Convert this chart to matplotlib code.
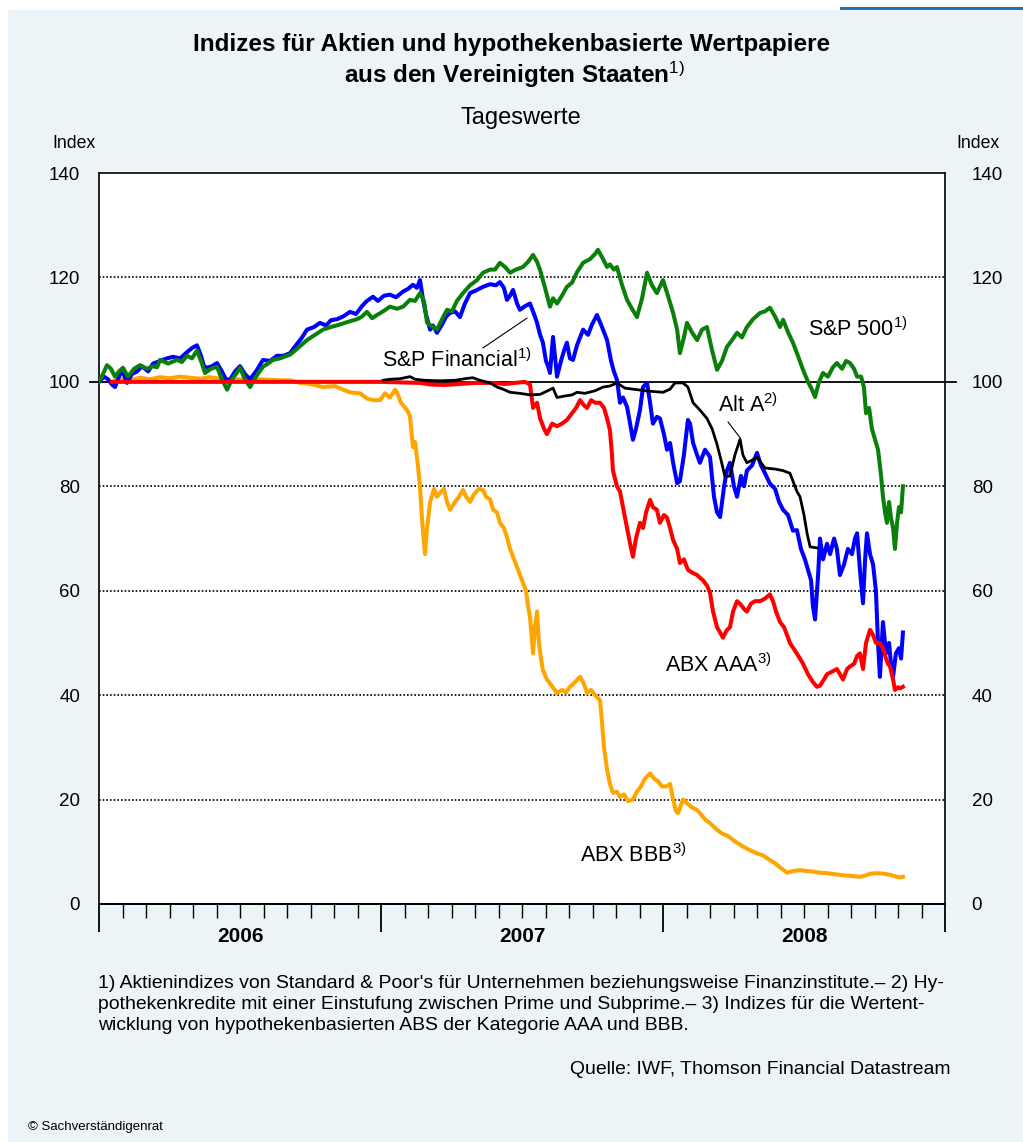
import matplotlib
matplotlib.use("Agg")
import matplotlib.pyplot as plt
from matplotlib.patches import Rectangle
import matplotlib.transforms as mtransforms

plt.rcParams['font.family'] = ['Liberation Sans', 'DejaVu Sans']
plt.rcParams['mathtext.fontset'] = 'custom'
plt.rcParams['mathtext.rm'] = 'Liberation Sans'
plt.rcParams['mathtext.it'] = 'Liberation Sans:italic'
plt.rcParams['mathtext.bf'] = 'Liberation Sans:bold'

# ---------------- data (x = months since start of 2006) ----------------
years = ["2006", "2007", "2008"]
yticks = [0, 20, 40, 60, 80, 100, 120, 140]

sp500_t = [0.00, 0.17, 0.34, 0.51, 0.68, 0.85, 1.02, 1.23, 1.49, 1.74, 2.04, 2.30, 2.47, 2.60, 2.94,
           3.32, 3.53, 3.74, 3.96, 4.17, 4.34, 4.51, 4.77, 5.02, 5.23, 5.45, 5.66, 5.83, 6.00, 6.21,
           6.43, 6.68, 6.98, 7.19, 7.40, 7.70, 8.13, 8.47, 8.85, 9.19, 9.53, 9.87, 10.26, 10.60, 10.98,
           11.19, 11.40, 11.62, 11.83, 12.09, 12.38, 12.68, 12.94, 13.23, 13.45, 13.66, 13.83, 13.96,
           14.21, 14.38, 14.60, 14.81, 15.02, 15.23, 15.49, 15.79, 16.09, 16.34, 16.64, 16.85, 17.06,
           17.28, 17.49, 17.74, 18.04, 18.26, 18.47, 18.64, 18.77, 18.98, 19.19, 19.32, 19.49, 19.70,
           19.91, 20.13, 20.34, 20.60, 20.89, 21.11, 21.23, 21.45, 21.62, 21.74, 21.91, 22.04, 22.26,
           22.47, 22.68, 22.89, 23.11, 23.32, 23.53, 23.74, 24.00, 24.21, 24.43, 24.60, 24.72, 24.89,
           25.02, 25.23, 25.45, 25.66, 25.87, 26.09, 26.30, 26.51, 26.72, 26.94, 27.15, 27.36, 27.57,
           27.83, 28.13, 28.34, 28.55, 28.77, 28.98, 29.11, 29.32, 29.53, 29.74, 29.96, 30.17, 30.34,
           30.47, 30.64, 30.81, 31.02, 31.23, 31.40, 31.62, 31.79, 31.96, 32.13, 32.26, 32.43, 32.55,
           32.64, 32.77, 32.89, 33.02, 33.15, 33.28, 33.36, 33.45, 33.53, 33.62, 33.70, 33.79, 33.87,
           33.96, 34.04, 34.13, 34.21]
sp500_v = [100, 101.5, 103.2, 102.5, 101, 102, 102.7, 101, 102.5, 103.2, 102.5, 103, 102.8, 104.2, 103.5,
           104.2, 103.8, 105, 104.5, 106, 104, 101.7, 102.5, 102.9, 100.5, 98.5, 100.5, 101.5, 102.7, 100.5,
           99, 101, 102.9, 103.5, 104.2, 104.5, 105.2, 106.5, 108, 109, 110, 110.5, 111, 111.5, 112,
           112.5, 113.4, 112.2, 112.8, 113.5, 114.4, 114, 114.4, 115.7, 115.5, 117, 115.5, 111.3,
           110.5, 110, 112, 113.8, 113.5, 115.5, 117, 118.5, 119.5, 120.9, 121.5, 121.5, 122.8,
           122, 120.9, 121.5, 122, 123, 124.3, 123, 121.4, 118, 114.4, 116, 115, 116.5,
           118.2, 119, 121, 122.8, 123.5, 124.5, 125.3, 123.5, 122, 122.5, 121.5, 122, 118.5,
           115.7, 114, 112.4, 116, 120.9, 118.5, 117, 119.5, 116.5, 113.2, 110, 105.5, 108.5,
           111.3, 109.5, 108, 110, 110.5, 106, 102.3, 104, 106.7, 108, 109.4, 108.5, 110.5,
           112, 113.2, 113.5, 114.2, 112.5, 110.5, 111.9, 109.5, 107.5, 105, 102.3, 100, 98.5,
           97.1, 100, 101.7, 101, 102.8, 103.6, 102.5, 104, 103.6, 102.5, 101, 101, 99,
           94, 95, 91, 89, 87, 82, 78, 75, 73, 77, 74, 72, 68,
           73, 76, 75, 80]

fin_t = [0.00, 0.21, 0.38, 0.55, 0.68, 0.85, 0.98, 1.19, 1.40, 1.62, 1.83, 2.09, 2.30, 2.60, 2.89,
         3.15, 3.45, 3.70, 3.96, 4.17, 4.34, 4.47, 4.60, 4.81, 5.02, 5.23, 5.40, 5.57, 5.79, 6.00,
         6.21, 6.43, 6.68, 6.98, 7.28, 7.57, 7.87, 8.13, 8.38, 8.64, 8.85, 9.15, 9.40, 9.66, 9.87,
         10.13, 10.38, 10.68, 10.94, 11.19, 11.40, 11.66, 11.87, 12.13, 12.38, 12.64, 12.94, 13.15,
         13.36, 13.53, 13.66, 13.79, 13.91, 14.09, 14.21, 14.38, 14.60, 14.77, 14.94, 15.15, 15.36,
         15.57, 15.79, 16.04, 16.34, 16.64, 16.89, 17.06, 17.23, 17.36, 17.49, 17.62, 17.79, 17.91,
         18.13, 18.34, 18.51, 18.64, 18.77, 18.89, 19.02, 19.11, 19.19, 19.32, 19.40, 19.49, 19.66,
         19.79, 19.91, 20.04, 20.17, 20.34, 20.47, 20.60, 20.81, 20.98, 21.19, 21.36, 21.49, 21.62,
         21.79, 21.91, 22.04, 22.17, 22.30, 22.47, 22.60, 22.72, 22.85, 23.02, 23.15, 23.32, 23.45,
         23.57, 23.74, 23.87, 24.04, 24.17, 24.30, 24.43, 24.60, 24.72, 24.89, 25.06, 25.15, 25.28,
         25.45, 25.57, 25.79, 26.00, 26.17, 26.30, 26.43, 26.60, 26.72, 26.85, 27.02, 27.15, 27.32,
         27.45, 27.57, 27.79, 28.00, 28.17, 28.34, 28.55, 28.77, 28.94, 29.11, 29.32, 29.53, 29.70,
         29.87, 30.04, 30.17, 30.30, 30.38, 30.47, 30.60, 30.68, 30.81, 30.98, 31.11, 31.28, 31.40,
         31.53, 31.70, 31.87, 32.04, 32.17, 32.26, 32.38, 32.51, 32.60, 32.68, 32.81, 32.94, 33.06,
         33.15, 33.23, 33.36, 33.49, 33.62, 33.70, 33.79, 33.91, 34.04, 34.13, 34.21]
fin_v = [100, 101, 100.5, 99.5, 99, 101, 102.3, 99.8, 101.5, 102, 103, 102, 103.5, 104, 104.5,
         104.8, 104.5, 105.5, 106.5, 107, 105, 103, 102.7, 103, 103.6, 102, 100.5, 100.4, 102, 103,
         101.5, 100.5, 102, 104.2, 104, 105, 105, 105.5, 107, 108.5, 110, 110.5, 111.3, 110.8, 111.8,
         112, 112.5, 113.4, 113, 114.5, 115.5, 116.3, 115.5, 116.5, 116.7, 116.2, 117.3, 117.8,
         118.6, 118, 119.5, 115.7, 113, 110, 110.8, 109.4, 111, 112.5, 113.2, 113.5, 112.4,
         115, 117, 117.5, 118.2, 118.7, 118.5, 119.1, 118, 115.7, 116.5, 117.6, 115, 113.8,
         114.5, 115, 113, 111.3, 109, 107.5, 104, 103, 101.7, 108.6, 105, 101, 104,
         106, 107.5, 104.5, 104.2, 107, 108.5, 110, 109, 111, 112.8, 111, 109.5, 108,
         104, 102, 100.4, 96, 97, 95.2, 92, 88.9, 91, 94.6, 99, 99.8, 96,
         92, 93.3, 93, 90, 87, 88.3, 84.5, 80.6, 81, 86, 92.7, 92, 88.3,
         86, 84.5, 87, 85.6, 78, 75, 74.1, 80, 83, 84.5, 80, 78, 82,
         80, 83, 84, 86.4, 84, 82.5, 80.5, 79.5, 77, 75.5, 74.5, 71.5, 71.6,
         68, 66, 64, 62, 57, 54.5, 63, 70, 66, 69, 67, 70, 68,
         63, 65, 68, 67, 70, 71, 64, 57.6, 66, 71, 67, 65, 60,
         50, 43.5, 54, 48, 50, 46, 43.5, 48, 49, 47, 52]

aaa_t = [0.55, 4.00, 8.00, 12.00, 13.66, 14.09, 14.72, 15.36, 16.00, 16.64, 17.28, 17.70, 18.13, 18.34,
         18.47, 18.64, 18.77, 18.94, 19.06, 19.28, 19.49, 19.70, 19.91, 20.13, 20.30, 20.47, 20.64,
         20.77, 20.94, 21.11, 21.32, 21.49, 21.62, 21.74, 21.83, 21.87, 22.04, 22.17, 22.34, 22.47,
         22.60, 22.72, 22.85, 23.02, 23.15, 23.28, 23.45, 23.57, 23.74, 23.87, 24.04, 24.17, 24.30,
         24.43, 24.60, 24.72, 24.89, 25.06, 25.23, 25.45, 25.57, 25.70, 25.87, 26.00, 26.13, 26.30,
         26.43, 26.55, 26.72, 26.85, 26.98, 27.15, 27.28, 27.45, 27.57, 27.74, 27.91, 28.13, 28.34,
         28.55, 28.68, 28.81, 28.98, 29.15, 29.28, 29.40, 29.62, 29.83, 29.96, 30.17, 30.38, 30.55,
         30.68, 30.85, 30.98, 31.19, 31.40, 31.53, 31.66, 31.83, 31.96, 32.13, 32.26, 32.38, 32.51,
         32.64, 32.81, 32.94, 33.06, 33.23, 33.36, 33.49, 33.57, 33.66, 33.79, 33.87, 34.00, 34.09,
         34.21]
aaa_v = [100, 100, 100, 100, 99.8, 99.5, 99.4, 99.6, 99.8, 99.8, 99.6, 99.8, 100, 99.5,
         95, 96, 93, 91, 90, 92, 91.5, 92, 92.7, 94, 95, 96.5, 95.5,
         95, 96.5, 96, 96, 95, 93, 90.8, 86, 83, 80, 79, 75, 72,
         69, 66.5, 70, 73, 72, 75, 77.4, 76, 75.5, 73, 74.5, 74, 72,
         69.7, 68, 65.3, 66, 64, 63.5, 63, 62.5, 62, 61, 59.6, 56, 53,
         52, 51, 52.5, 53, 56, 58, 57.5, 56.5, 56, 57.5, 58, 58, 58.5,
         59.3, 58, 56, 54, 53, 51.5, 50, 48.5, 47, 46, 44, 42.5, 41.6,
         41.8, 43, 44, 44.5, 45, 44, 43, 45, 45.5, 46, 47.5, 48, 45,
         50, 52.5, 51.5, 50, 50, 49, 47, 46, 45.5, 43, 41, 41.5, 41.3,
         41.6]

bbb_t = [0.55, 0.89, 1.32, 1.74, 2.17, 2.60, 3.02, 3.45, 3.87, 4.30, 4.72, 5.15, 5.57, 6.00, 6.43,
         6.85, 7.28, 7.70, 8.13, 8.55, 8.98, 9.53, 10.04, 10.34, 10.68, 11.11, 11.40, 11.66, 11.96,
         12.17, 12.38, 12.60, 12.68, 12.85, 13.11, 13.23, 13.36, 13.45, 13.57, 13.66, 13.74, 13.87,
         13.96, 14.09, 14.26, 14.38, 14.51, 14.68, 14.81, 14.94, 15.15, 15.32, 15.49, 15.62, 15.79,
         15.96, 16.17, 16.34, 16.47, 16.64, 16.77, 16.94, 17.06, 17.23, 17.36, 17.49, 17.66, 17.79,
         17.91, 18.04, 18.17, 18.26, 18.34, 18.43, 18.47, 18.55, 18.64, 18.72, 18.81, 18.89, 19.06,
         19.23, 19.49, 19.70, 19.87, 20.04, 20.26, 20.47, 20.60, 20.77, 20.94, 21.11, 21.32, 21.40,
         21.49, 21.62, 21.74, 21.87, 22.04, 22.17, 22.34, 22.51, 22.72, 22.89, 23.06, 23.23, 23.45,
         23.62, 23.79, 23.96, 24.13, 24.30, 24.43, 24.55, 24.64, 24.77, 24.85, 25.02, 25.23, 25.45,
         25.57, 25.79, 26.00, 26.30, 26.51, 26.77, 27.06, 27.40, 27.70, 28.00, 28.26, 28.55, 28.77,
         28.98, 29.28, 29.53, 29.83, 30.13, 30.38, 30.68, 30.98, 31.32, 31.66, 31.96, 32.38, 32.64,
         32.81, 33.11, 33.40, 33.66, 33.87, 34.09, 34.21]
bbb_v = [100, 100.5, 100.3, 100.8, 100.5, 100.9, 100.7, 101, 100.8, 100.6, 100.9, 100.6, 100.4, 100.5, 100.3,
         100.5, 100.4, 100.3, 100.3, 99.8, 99.6, 99, 99.2, 98.6, 98, 97.8, 96.8, 96.5, 96.5,
         97.8, 97, 98.5, 98, 96, 94.6, 93.5, 87.5, 88.5, 84, 80, 74, 67,
         72, 77, 79.5, 78, 78.7, 79.5, 77, 75.5, 77, 78, 79.3, 78, 77,
         78.5, 79.5, 79.3, 78, 77.5, 75.5, 75, 73, 72, 70.3, 68, 66, 64.5,
         63, 61.5, 60, 57, 55, 50, 48, 53, 56, 50, 47, 44.8, 43,
         42, 40.4, 41, 40.5, 41.6, 42.5, 43.5, 42.5, 40.4, 41, 40, 39, 35,
         30, 25.7, 23, 21.3, 21.5, 20.5, 21, 19.7, 20, 21.5, 22.5, 24, 25,
         24, 23.5, 22.5, 22.5, 23, 20, 17.8, 17.4, 19, 20, 19.3, 18.5, 18,
         17.4, 16.2, 15.5, 14.2, 13.5, 13, 12, 11, 10.3, 9.7, 9.3, 8.4, 7.8,
         7, 6, 6.3, 6.5, 6.3, 6.2, 6, 5.9, 5.7, 5.5, 5.4, 5.2, 5.5,
         5.8, 5.9, 5.8, 5.6, 5.3, 5.1, 5.2]

alta_t = [12.09, 12.38, 12.81, 13.02, 13.23, 13.45, 13.87, 14.51, 15.15, 15.57, 15.91, 16.21, 16.64,
          16.94, 17.19, 17.49, 17.91, 18.34, 18.77, 19.19, 19.32, 19.49, 19.83, 20.13, 20.34, 20.68,
          21.11, 21.45, 21.74, 22.04, 22.38, 22.89, 23.45, 24.00, 24.30, 24.51, 24.85, 25.06, 25.28,
          25.57, 25.87, 26.09, 26.30, 26.47, 26.64, 26.85, 27.06, 27.28, 27.40, 27.57, 27.79, 28.00,
          28.17, 28.34, 28.77, 29.11, 29.40, 29.53, 29.70, 29.83, 30.00, 30.13, 30.26, 30.55]
alta_v = [100.3, 100.5, 100.6, 100.8, 101, 100.5, 100.3, 100.2, 100.3, 100.6, 100.8, 100.3, 99.8,
          99, 98.6, 98, 97.8, 97.5, 97.6, 98.5, 98.8, 97, 97.3, 97.5, 98, 97.8,
          98.3, 99, 99.2, 99.8, 98.8, 98.5, 98.2, 98, 98.6, 99.8, 99.8, 99, 96,
          94.6, 93, 91, 88, 85, 81.8, 82, 86, 89, 86, 84.5, 85, 85.6,
          84.5, 83.5, 83.3, 83, 82.5, 81, 79, 78, 74.5, 71, 68.4, 68.2]

# ---------------- figure ----------------
W, H = 1023, 1142
fig = plt.figure(figsize=(W / 100, H / 100), dpi=100)
fig.patch.set_facecolor("white")


def fx(x):
    return x / W


def fy(y):
    return 1 - y / H


bg = "#ECF4F8"
fig.add_artist(Rectangle((fx(8), 0), 1 - fx(8), fy(10), transform=fig.transFigure,
                         facecolor=bg, edgecolor="none", zorder=-10))
fig.add_artist(Rectangle((fx(840), fy(10)), 1 - fx(840), 3 / H, transform=fig.transFigure,
                         facecolor="#1F73B7", edgecolor="none", zorder=-9))

ax = fig.add_axes([fx(99), fy(904), fx(945) - fx(99), fy(173) - fy(904)])
ax.set_facecolor("white")
ax.set_xlim(0, 36)
ax.set_ylim(0, 140)

# grid
for v in yticks:
    if v in (0, 140):
        continue
    if v == 100:
        ax.axhline(v, color="black", lw=1.3, zorder=1)
    else:
        ax.axhline(v, color="black", lw=1.2, ls=(0, (1, 1.2)), zorder=1)
# ticks at 100 outside both sides
ax.plot([-0.011, 0.0], [100, 100], transform=ax.get_yaxis_transform(), color="black",
        lw=1.3, clip_on=False)
ax.plot([1.0, 1.013], [100, 100], transform=ax.get_yaxis_transform(), color="black",
        lw=1.3, clip_on=False)

# series
lw = 2.9
ax.plot(bbb_t, bbb_v, color="#FFA500", lw=lw, zorder=3, solid_joinstyle="round")
ax.plot(fin_t, fin_v, color="#0000FF", lw=lw, zorder=4, solid_joinstyle="round")
ax.plot(sp500_t, sp500_v, color="#0A7F0A", lw=lw, zorder=5, solid_joinstyle="round")
ax.plot(aaa_t, aaa_v, color="#FF0000", lw=lw, zorder=6, solid_joinstyle="round")
ax.plot(alta_t, alta_v, color="black", lw=2.0, zorder=7, solid_joinstyle="round")

# spines
for s in ["left", "right", "top"]:
    ax.spines[s].set_linewidth(1.2)
    ax.spines[s].set_color("black")
ax.spines["bottom"].set_linewidth(1.4)
ax.spines["bottom"].set_linestyle((0, (1, 0.8)))

# x ticks
ax.set_xticks([0, 12, 24, 36])
ax.set_xticks(range(37), minor=True)
ax.tick_params(axis="x", which="major", length=20, width=1.3, direction="out", labelbottom=False)
ax.tick_params(axis="x", which="minor", length=10, width=1.0, direction="out")
for i, yr in enumerate(years):
    ax.text(6 + 12 * i, -6.2, yr, ha="center", va="center", fontsize=15,
            fontweight="bold", transform=ax.transData, clip_on=False)

# y ticks both sides
ax.set_yticks(yticks)
ax.set_yticklabels([str(v) for v in yticks])
ax.tick_params(axis="y", which="both", length=0, labelleft=True, labelright=True,
               labelsize=13.5, pad=13.5)
for t in ax.yaxis.get_major_ticks():
    t.label2.set_transform(t.label2.get_transform()
                           + mtransforms.ScaledTranslation(8 / 100, 0, fig.dpi_scale_trans))

# annotation leader lines
ax.plot([16.34, 18.21], [106.5, 112.2], color="black", lw=0.8, zorder=8)
ax.plot([26.77, 27.28], [92.3, 89.3], color="black", lw=0.8, zorder=8)

ann_fs = 15.5
ax.text(12.04, 104.2, r"S&P Financial$^{\rm 1)}$", fontsize=ann_fs, ha="left", va="center", zorder=9)
ax.text(30.17, 110.0, r"S&P 500$^{\rm 1)}$", fontsize=ann_fs, ha="left", va="center", zorder=9)
ax.text(26.34, 95.6, r"Alt A$^{\rm 2)}$", fontsize=ann_fs, ha="left", va="center", zorder=9)
ax.text(24.09, 45.8, r"ABX AAA$^{\rm 3)}$", fontsize=ann_fs, ha="left", va="center", zorder=9)
ax.text(20.47, 9.4, r"ABX BBB$^{\rm 3)}$", fontsize=ann_fs, ha="left", va="center", zorder=9)

# titles
fig.text(fx(512), fy(45), "Indizes für Aktien und hypothekenbasierte Wertpapiere",
         ha="center", va="center", fontsize=17.5, fontweight="bold")
fig.text(fx(515), fy(75), r"aus den Vereinigten Staaten$^{\rm 1)}$",
         ha="center", va="center", fontsize=17.5, fontweight="bold")
fig.text(fx(521), fy(118), "Tageswerte", ha="center", va="center", fontsize=17)
fig.text(fx(52), fy(143), "Index", ha="left", va="center", fontsize=12.7)
fig.text(fx(1000), fy(143), "Index", ha="right", va="center", fontsize=12.7)

# footnotes
foot = ["1) Aktienindizes von Standard & Poor's für Unternehmen beziehungsweise Finanzinstitute.– 2) Hy-",
        "pothekenkredite mit einer Einstufung zwischen Prime und Subprime.– 3) Indizes für die Wertent-",
        "wicklung von hypothekenbasierten ABS der Kategorie AAA und BBB."]
renderer = fig.canvas.get_renderer()
probe = fig.text(0, 0, foot[0], fontsize=12)
wpx = probe.get_window_extent(renderer=renderer).width
probe.remove()
foot_fs = 12 * 846 / wpx
for i, line in enumerate(foot):
    fig.text(fx(98), fy(983 + 21.5 * i), line, ha="left", va="center", fontsize=foot_fs)

fig.text(fx(950), fy(1070), "Quelle: IWF, Thomson Financial Datastream", ha="right", va="center",
         fontsize=foot_fs)
fig.text(fx(28), fy(1127), "© Sachverständigenrat", ha="left", va="center", fontsize=9.5)

fig.savefig("out.png", dpi=100, facecolor=fig.get_facecolor())
